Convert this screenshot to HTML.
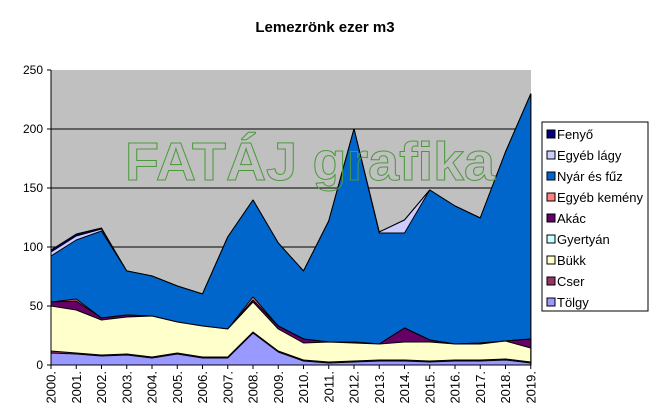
<!DOCTYPE html>
<html><head><meta charset="utf-8"><style>body{margin:0;background:#fff}svg{display:block}</style></head><body>
<svg width="656" height="420" xmlns="http://www.w3.org/2000/svg" font-family="Liberation Sans, Arial, sans-serif">
<rect width="656" height="420" fill="#fff"/>
<text x="325" y="32" font-size="15" font-weight="bold" text-anchor="middle">Lemezrönk ezer m3</text>
<rect x="51" y="70" width="480" height="295" fill="#c0c0c0"/>
<g stroke="#000" stroke-width="1">
<line x1="51" y1="129" x2="531" y2="129"/><line x1="51" y1="188" x2="531" y2="188"/><line x1="51" y1="247" x2="531" y2="247"/><line x1="51" y1="306" x2="531" y2="306"/>
</g>
<g stroke="#000" stroke-width="1" stroke-linejoin="round">
<polygon fill="#000080" points="51,250 76.25,234 101.5,228 126.75,271 152,276 177.25,286 202.5,294 227.75,237 253,200 278.25,243 303.5,271 328.75,221 354,129 379.25,232 404.5,220 429.75,190 455,206 480.25,218 505.5,152 530.75,94 530.75,365 51,365"/>
<polygon fill="#ccccff" points="51,252 76.25,236 101.5,229 126.75,271 152,276 177.25,286 202.5,294 227.75,237 253,200 278.25,243 303.5,271 328.75,221 354,129 379.25,232 404.5,220 429.75,190 455,206 480.25,218 505.5,152 530.75,94 530.75,365 51,365"/>
<polygon fill="#0066cc" points="51,256 76.25,240 101.5,231 126.75,271 152,276 177.25,286 202.5,294 227.75,237 253,200 278.25,243 303.5,271 328.75,221 354,129 379.25,233 404.5,233 429.75,190 455,206 480.25,218 505.5,152 530.75,94 530.75,365 51,365"/>
<polygon fill="#ff8080" points="51,302 76.25,299 101.5,318 126.75,315 152,316 177.25,322 202.5,326 227.75,329 253,297 278.25,326 303.5,339 328.75,342 354,342 379.25,344 404.5,328 429.75,340 455,344 480.25,343 505.5,341 530.75,339 530.75,365 51,365"/>
<polygon fill="#660066" points="51,302 76.25,301 101.5,318 126.75,315 152,316 177.25,322 202.5,326 227.75,329 253,300 278.25,326 303.5,339 328.75,342 354,342 379.25,344 404.5,328 429.75,340 455,344 480.25,343 505.5,341 530.75,339 530.75,365 51,365"/>
<polygon fill="#ffffcc" points="51,306 76.25,310 101.5,320 126.75,317 152,316 177.25,322 202.5,326 227.75,329 253,302 278.25,329 303.5,343 328.75,342 354,343 379.25,344 404.5,342 429.75,342 455,344 480.25,344 505.5,341 530.75,348 530.75,365 51,365"/>
<polygon fill="#993366" points="51,351 76.25,353 101.5,355 126.75,354 152,357 177.25,353 202.5,357 227.75,357 253,332 278.25,351 303.5,360 328.75,362 354,361 379.25,360 404.5,360 429.75,361 455,360 480.25,360 505.5,359 530.75,362 530.75,365 51,365"/>
<polygon fill="#9999ff" points="51,353 76.25,354 101.5,356 126.75,355 152,358 177.25,354 202.5,358 227.75,358 253,333 278.25,352 303.5,361 328.75,363 354,362 379.25,361 404.5,361 429.75,362 455,361 480.25,361 505.5,360 530.75,363 530.75,365 51,365"/>
</g>
<text x="125" y="180" font-size="54" font-weight="bold" fill="none" stroke="#4a9a3a" stroke-width="1" textLength="370" lengthAdjust="spacingAndGlyphs">FATÁJ grafika</text>
<line x1="51" y1="70" x2="51" y2="365" stroke="#000"/>
<line x1="51" y1="365" x2="531" y2="365" stroke="#000"/>
<g font-size="12" text-anchor="end" fill="#000">
<text x="43" y="369">0</text><text x="43" y="310">50</text><text x="43" y="251">100</text><text x="43" y="192">150</text><text x="43" y="133">200</text><text x="43" y="74">250</text>
</g>
<g stroke="#000"><line x1="47" y1="70" x2="51" y2="70"/><line x1="47" y1="129" x2="51" y2="129"/><line x1="47" y1="188" x2="51" y2="188"/><line x1="47" y1="247" x2="51" y2="247"/><line x1="47" y1="306" x2="51" y2="306"/><line x1="47" y1="365" x2="51" y2="365"/>
<line x1="51" y1="365" x2="51" y2="369"/><line x1="76.25" y1="365" x2="76.25" y2="369"/><line x1="101.5" y1="365" x2="101.5" y2="369"/><line x1="126.75" y1="365" x2="126.75" y2="369"/><line x1="152" y1="365" x2="152" y2="369"/><line x1="177.25" y1="365" x2="177.25" y2="369"/><line x1="202.5" y1="365" x2="202.5" y2="369"/><line x1="227.75" y1="365" x2="227.75" y2="369"/><line x1="253" y1="365" x2="253" y2="369"/><line x1="278.25" y1="365" x2="278.25" y2="369"/><line x1="303.5" y1="365" x2="303.5" y2="369"/><line x1="328.75" y1="365" x2="328.75" y2="369"/><line x1="354" y1="365" x2="354" y2="369"/><line x1="379.25" y1="365" x2="379.25" y2="369"/><line x1="404.5" y1="365" x2="404.5" y2="369"/><line x1="429.75" y1="365" x2="429.75" y2="369"/><line x1="455" y1="365" x2="455" y2="369"/><line x1="480.25" y1="365" x2="480.25" y2="369"/><line x1="505.5" y1="365" x2="505.5" y2="369"/><line x1="530.75" y1="365" x2="530.75" y2="369"/>
</g>
<g font-size="13" text-anchor="end" fill="#000">
<text transform="translate(55.5,371) rotate(-90)">2000.</text>
<text transform="translate(80.75,371) rotate(-90)">2001.</text>
<text transform="translate(106,371) rotate(-90)">2002.</text>
<text transform="translate(131.25,371) rotate(-90)">2003.</text>
<text transform="translate(156.5,371) rotate(-90)">2004.</text>
<text transform="translate(181.75,371) rotate(-90)">2005.</text>
<text transform="translate(207,371) rotate(-90)">2006.</text>
<text transform="translate(232.25,371) rotate(-90)">2007.</text>
<text transform="translate(257.5,371) rotate(-90)">2008.</text>
<text transform="translate(282.75,371) rotate(-90)">2009.</text>
<text transform="translate(308,371) rotate(-90)">2010.</text>
<text transform="translate(333.25,371) rotate(-90)">2011.</text>
<text transform="translate(358.5,371) rotate(-90)">2012.</text>
<text transform="translate(383.75,371) rotate(-90)">2013.</text>
<text transform="translate(409,371) rotate(-90)">2014.</text>
<text transform="translate(434.25,371) rotate(-90)">2015.</text>
<text transform="translate(459.5,371) rotate(-90)">2016.</text>
<text transform="translate(484.75,371) rotate(-90)">2017.</text>
<text transform="translate(510,371) rotate(-90)">2018.</text>
<text transform="translate(535.25,371) rotate(-90)">2019.</text>
</g>
<rect x="542" y="122" width="106" height="189" fill="#fff" stroke="#000"/>
<g font-size="13" fill="#000">
<rect x="547" y="130" width="8" height="8" fill="#000080" stroke="#000"/><text x="557" y="139">Fenyő</text>
<rect x="547" y="151" width="8" height="8" fill="#ccccff" stroke="#000"/><text x="557" y="160">Egyéb lágy</text>
<rect x="547" y="172" width="8" height="8" fill="#0066cc" stroke="#000"/><text x="557" y="181">Nyár és fűz</text>
<rect x="547" y="193" width="8" height="8" fill="#ff8080" stroke="#000"/><text x="557" y="202">Egyéb kemény</text>
<rect x="547" y="214" width="8" height="8" fill="#660066" stroke="#000"/><text x="557" y="223">Akác</text>
<rect x="547" y="235" width="8" height="8" fill="#ccffff" stroke="#000"/><text x="557" y="244">Gyertyán</text>
<rect x="547" y="256" width="8" height="8" fill="#ffffcc" stroke="#000"/><text x="557" y="265">Bükk</text>
<rect x="547" y="277" width="8" height="8" fill="#993366" stroke="#000"/><text x="557" y="286">Cser</text>
<rect x="547" y="298" width="8" height="8" fill="#9999ff" stroke="#000"/><text x="557" y="307">Tölgy</text>
</g>
</svg>
</body></html>
